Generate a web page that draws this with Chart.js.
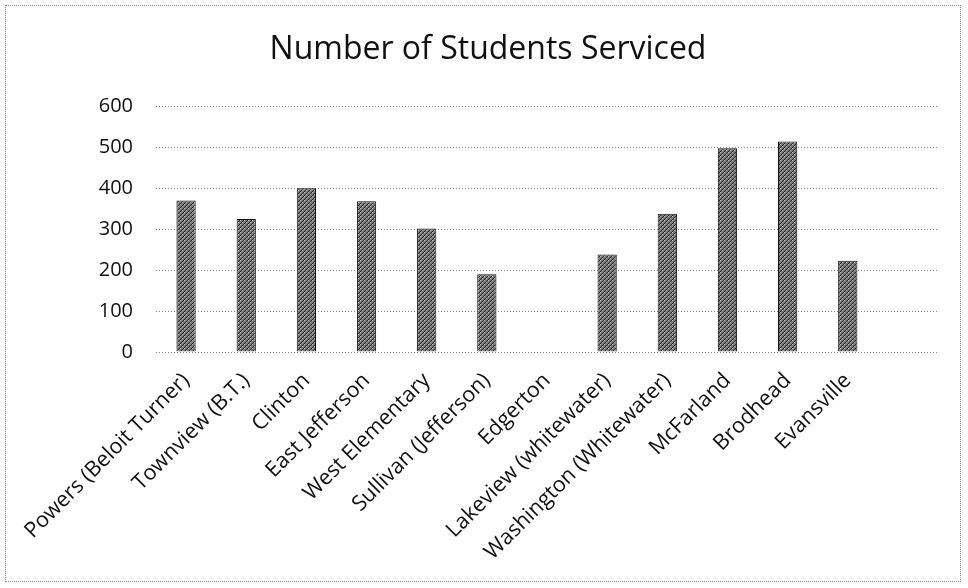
<!DOCTYPE html>
<html>
<head>
<meta charset="utf-8">
<script src="https://cdn.jsdelivr.net/npm/chart.js@4/dist/chart.umd.min.js"></script>
<style>
  html, body { margin: 0; padding: 0; background: #fff; }
  #wrap { position: relative; width: 968px; height: 588px; }
  #frame {
    position: absolute; left: 5px; top: 5px; width: 956px; height: 577px;
    border: 1px dotted #8a8a8a; box-sizing: border-box; pointer-events: none;
  }
</style>
</head>
<body>
<div id="wrap">
  <canvas id="chart" width="968" height="588"></canvas>
  <div id="frame"></div>
</div>
<script>
/* ---------- data ---------- */
const schools = [
  "Powers (Beloit Turner)",
  "Townview (B.T.)",
  "Clinton",
  "East Jefferson",
  "West Elementary",
  "Sullivan (Jefferson)",
  "Edgerton",
  "Lakeview (whitewater)",
  "Washington (Whitewater)",
  "McFarland",
  "Brodhead",
  "Evansville",
  ""
];
const studentsServiced = [370, 325, 400, 368, 302, 190, 0, 238, 338, 498, 514, 223, null];
const yTicks = [0, 100, 200, 300, 400, 500, 600];

const FONT = "'Open Sans', Lato, sans-serif";

/* ---------- hatched fill like the scanned bars ---------- */
function makeHatch() {
  const c = document.createElement("canvas");
  c.width = 4; c.height = 4;
  const g = c.getContext("2d");
  g.fillStyle = "#7a7a7a";
  g.fillRect(0, 0, 4, 4);
  g.fillStyle = "#222";
  for (let i = 0; i < 4; i++) g.fillRect(i, 3 - i, 1, 1);
  g.fillStyle = "#c0c0c0";
  g.fillRect(0, 0, 1, 1);
  g.fillRect(2, 2, 1, 1);
  return g.createPattern(c, "repeat");
}

const ctx = document.getElementById("chart");

new Chart(ctx, {
  type: "bar",
  data: {
    labels: schools,
    datasets: [{
      label: "Number of Students Serviced",
      data: studentsServiced,
      backgroundColor: makeHatch(),
      borderColor: "#111",
      borderWidth: 1,
      categoryPercentage: 1,
      barPercentage: 0.32
    }]
  },
  options: {
    responsive: false,
    animation: false,
    layout: { padding: { left: 38, right: 30, top: 0, bottom: 0 } },
    plugins: {
      legend: { display: false },
      tooltip: { enabled: false },
      title: {
        display: true,
        text: "Number of Students Serviced",
        color: "#111",
        font: { family: FONT, size: 32, weight: "normal" },
        padding: { top: 31, bottom: 37 }
      }
    },
    scales: {
      x: {
        grid: { display: false },
        border: { display: false },
        afterFit: s => { s.height = 236; },
        ticks: {
          color: "#111",
          font: { family: FONT, size: 21.5 },
          minRotation: 45,
          maxRotation: 45,
          autoSkip: false,
          padding: 8
        }
      },
      y: {
        min: 0,
        max: 600,
        afterFit: s => { s.width = 118; },
        afterBuildTicks: s => { s.ticks = yTicks.map(v => ({ value: v })); },
        border: { display: false, dash: [1, 2] },
        grid: {
          color: "#8c8c8c",
          lineWidth: 1,
          drawTicks: false
        },
        ticks: {
          color: "#111",
          font: { family: FONT, size: 20 },
          padding: 23
        }
      }
    }
  }
});
</script>
</body>
</html>
